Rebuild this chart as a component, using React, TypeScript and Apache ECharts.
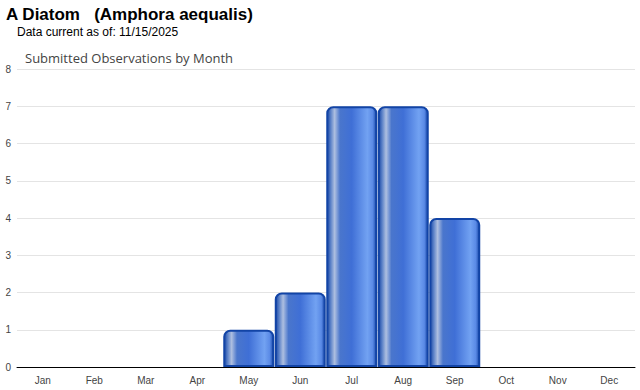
import React, { useEffect, useRef } from "react";
import * as echarts from "echarts";

const months = ["Jan", "Feb", "Mar", "Apr", "May", "Jun", "Jul", "Aug", "Sep", "Oct", "Nov", "Dec"];
const observations = [0, 0, 0, 0, 1, 2, 7, 7, 4, 0, 0, 0];
const titleText = "A Diatom   (Amphora aequalis)";
const subtitleText = "Data current as of: 11/15/2025";
const chartTitle = "Submitted Observations by Month";

export default function App() {
  const ref = useRef<HTMLDivElement>(null);
  useEffect(() => {
    if (!ref.current) return;
    const chart = echarts.init(ref.current, undefined, { renderer: "svg" });
    const grad = new echarts.graphic.LinearGradient(0, 0, 1, 0, [
      { offset: 0, color: "#1a48a6" },
      { offset: 0.07, color: "#5c82c8" },
      { offset: 0.15, color: "#aebfe0" },
      { offset: 0.26, color: "#4a76cc" },
      { offset: 0.5, color: "#3f6fd6" },
      { offset: 0.82, color: "#72a2f2" },
      { offset: 0.93, color: "#5a8ae6" },
      { offset: 1, color: "#1a4aaa" },
    ]);
    chart.setOption({
      animation: false,
      backgroundColor: "#ffffff",
      title: [
        {
          text: titleText,
          left: 6,
          top: 6,
          padding: 0,
          textStyle: { fontFamily: "Liberation Sans", fontSize: 17, fontWeight: "bold", color: "#000" },
        },
        {
          text: subtitleText,
          left: 17,
          top: 26,
          padding: 0,
          textStyle: { fontFamily: "Liberation Sans", fontSize: 12, fontWeight: "normal", color: "#000" },
        },
        {
          text: chartTitle,
          left: 25,
          top: 51,
          padding: 0,
          textStyle: { fontFamily: "Open Sans", fontSize: 13, fontWeight: "normal", color: "#444" },
        },
      ],
      grid: { left: 17, right: 5, top: 69, bottom: 23 },
      xAxis: {
        type: "category",
        data: months,
        axisLine: { lineStyle: { color: "#000", width: 1 } },
        axisTick: { alignWithLabel: true, length: 4, lineStyle: { color: "#ccc" } },
        axisLabel: { fontFamily: "Liberation Sans", fontSize: 10, color: "#444", margin: 8 },
      },
      yAxis: {
        type: "value",
        min: 0,
        max: 8,
        interval: 1,
        axisLine: { show: false },
        axisTick: { show: false },
        splitLine: { lineStyle: { color: "#e4e4e4" } },
        axisLabel: { fontFamily: "Liberation Sans", fontSize: 10, color: "#444", margin: 6 },
      },
      series: [
        {
          type: "bar",
          data: observations.map((v) => (v === 0 ? null : v)),
          barCategoryGap: "1%",
          itemStyle: {
            color: grad,
            borderColor: "#1244a6",
            borderWidth: 2,
            borderRadius: [6, 6, 0, 0],
          },
        },
      ],
    });
    return () => chart.dispose();
  }, []);
  return <div ref={ref} style={{ width: 640, height: 390, position: "absolute", left: 0, top: 0 }} />;
}
